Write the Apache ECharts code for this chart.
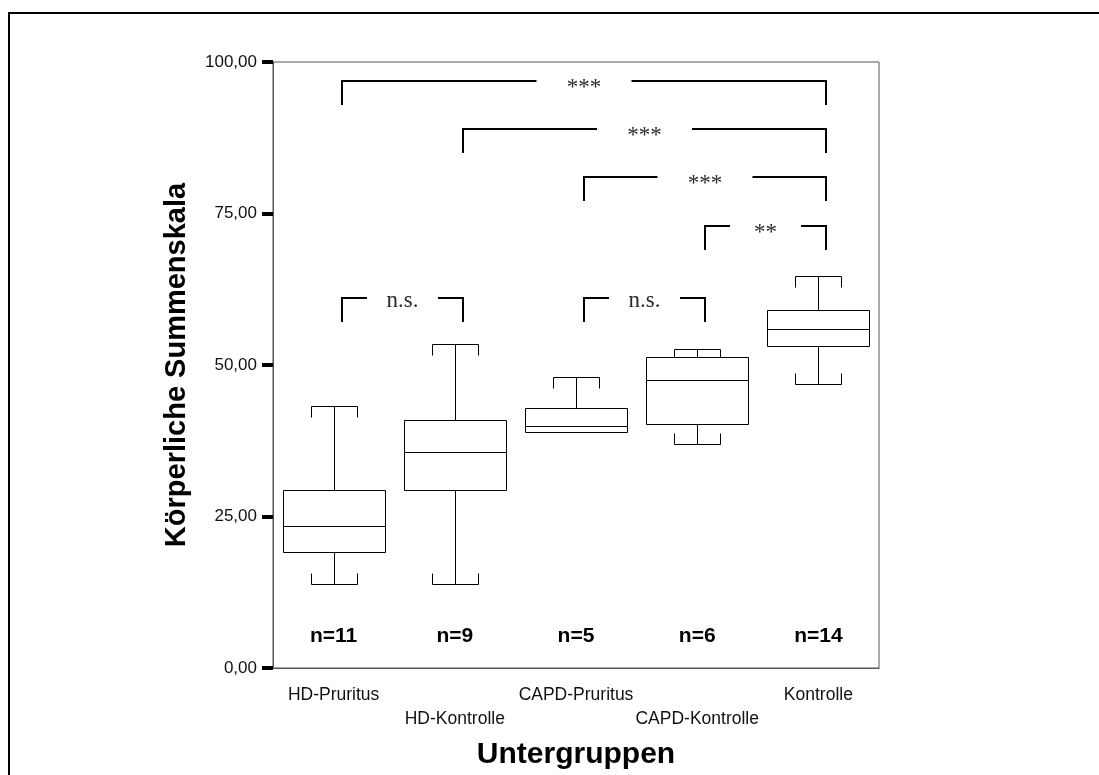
<!DOCTYPE html>
<html>
<head>
<meta charset="utf-8">
<script src="https://cdn.jsdelivr.net/npm/echarts@6/dist/echarts.min.js"></script>
<style>
  html, body { margin: 0; padding: 0; background: #fff; }
  #chart { width: 1099px; height: 775px; }
</style>
</head>
<body>
<div id="chart"></div>
<script>
  // groups on the x axis
  var groups = ['HD-Pruritus', 'HD-Kontrolle', 'CAPD-Pruritus', 'CAPD-Kontrolle', 'Kontrolle'];
  // box statistics per group
  var whiskerLow = [13.9, 13.9, 38.9, 37.0, 46.9];
  var quartile1 = [19.1, 29.3, 38.9, 40.3, 53.2];
  var medians = [23.4, 35.6, 39.9, 47.6, 56.0];
  var quartile3 = [29.3, 40.9, 42.9, 51.4, 59.0];
  var whiskerHigh = [43.2, 53.5, 48.1, 52.7, 64.7];
  var sampleSizes = [11, 9, 5, 6, 14];

  // significance brackets: group index from / to, level on the value axis
  var bracketFrom = [0, 1, 2, 3, 0, 2];
  var bracketTo = [4, 4, 4, 4, 1, 3];
  var bracketLevel = [96.8, 88.9, 81.0, 73.0, 61.0, 61.0];
  var bracketLabel = ['***', '***', '***', '**', 'n.s.', 'n.s.'];

  var yTicks = [0, 25, 50, 75, 100];

  var SANS = '"Liberation Sans", Arial, sans-serif';
  var SERIF = '"Liberation Serif", "Times New Roman", serif';

  function crisp(v) {
    return Math.round(v) + 0.5;
  }

  function seg(x1, y1, x2, y2, width) {
    return {
      type: 'line',
      shape: { x1: x1, y1: y1, x2: x2, y2: y2 },
      style: { stroke: '#000', lineWidth: width || 1 }
    };
  }

  function renderBox(params, api) {
    var i = api.value(0);
    var lo = api.coord([i, api.value(1)])[1];
    var q1 = api.coord([i, api.value(2)])[1];
    var med = api.coord([i, api.value(3)])[1];
    var q3 = api.coord([i, api.value(4)])[1];
    var hi = api.coord([i, api.value(5)])[1];
    var band = api.size([1, 0])[0];
    var x = crisp(api.coord([i, 0])[0]);
    var half = Math.round(band * 0.42);
    var cap = Math.round(band * 0.19);
    var tick = 11;
    var children = [];

    lo = crisp(lo); q1 = crisp(q1); med = crisp(med); q3 = crisp(q3); hi = crisp(hi);

    // upper whisker with bracket-shaped cap
    children.push(seg(x, q3, x, hi));
    children.push(seg(x - cap, hi, x + cap, hi));
    children.push(seg(x - cap, hi, x - cap, hi + tick));
    children.push(seg(x + cap, hi, x + cap, hi + tick));

    // lower whisker, only when it has a length
    if (api.value(1) < api.value(2)) {
      children.push(seg(x, q1, x, lo));
      children.push(seg(x - cap, lo, x + cap, lo));
      children.push(seg(x - cap, lo, x - cap, lo - tick));
      children.push(seg(x + cap, lo, x + cap, lo - tick));
    }

    children.push({
      type: 'rect',
      shape: { x: x - half, y: q3, width: half * 2, height: q1 - q3 },
      style: { stroke: '#000', fill: '#fff', lineWidth: 1 }
    });
    children.push(seg(x - half, med, x + half, med));

    return { type: 'group', children: children };
  }

  var gapByLabel = { '***': 95, '**': 71, 'n.s.': 71 };

  function renderBracket(params, api) {
    var idx = params.dataIndex;
    var a = api.coord([api.value(0), api.value(2)]);
    var b = api.coord([api.value(1), api.value(2)]);
    var x1 = Math.round(a[0]) + 8;
    var x2 = Math.round(b[0]) + 8;
    var y = Math.round(a[1]);
    var drop = 24;
    var label = bracketLabel[idx];
    var gap = gapByLabel[label];
    var mid = (x1 + x2) / 2;
    var lineStyle = { stroke: '#000', lineWidth: 2, fill: null };

    return {
      type: 'group',
      children: [
        {
          type: 'polyline',
          shape: { points: [[x1, y + drop], [x1, y], [mid - gap / 2, y]] },
          style: lineStyle
        },
        {
          type: 'polyline',
          shape: { points: [[mid + gap / 2, y], [x2, y], [x2, y + drop]] },
          style: lineStyle
        },
        {
          type: 'text',
          x: mid,
          y: y + (label === 'n.s.' ? 3 : 7),
          style: {
            text: label,
            fontFamily: SERIF,
            fontSize: 23,
            fill: '#2a2a2a',
            align: 'center',
            verticalAlign: 'middle'
          }
        }
      ]
    };
  }

  function renderCount(params, api) {
    var p = api.coord([api.value(0), 0]);
    return {
      type: 'text',
      x: p[0],
      y: p[1] - 32,
      style: {
        text: 'n=' + api.value(1),
        fontFamily: SANS,
        fontSize: 21,
        fontWeight: 'bold',
        fill: '#000',
        align: 'center',
        verticalAlign: 'middle'
      }
    };
  }

  var boxData = groups.map(function (g, i) {
    return [i, whiskerLow[i], quartile1[i], medians[i], quartile3[i], whiskerHigh[i]];
  });
  var bracketData = bracketFrom.map(function (f, i) {
    return [f, bracketTo[i], bracketLevel[i]];
  });
  var countData = sampleSizes.map(function (n, i) {
    return [i, n];
  });

  var chart = echarts.init(document.getElementById('chart'));
  chart.setOption({
    backgroundColor: '#fff',
    animation: false,
    graphic: [
      {
        type: 'rect',
        shape: { x: 9, y: 13, width: 1200, height: 900 },
        style: { stroke: '#000', lineWidth: 2, fill: null },
        silent: true
      }
    ],
    grid: {
      left: 273,
      right: 220,
      top: 62,
      bottom: 107,
      show: true,
      borderColor: '#555',
      borderWidth: 1,
      backgroundColor: '#fff'
    },
    xAxis: {
      type: 'category',
      data: groups,
      boundaryGap: true,
      name: 'Untergruppen',
      nameLocation: 'middle',
      nameGap: 72,
      nameTextStyle: {
        fontFamily: SANS,
        fontSize: 30,
        fontWeight: 'bold',
        color: '#000'
      },
      axisLine: { lineStyle: { color: '#555', width: 1 } },
      axisTick: { alignWithLabel: true, length: 11, lineStyle: { color: '#000', width: 4 } },
      axisLabel: {
        interval: 0,
        margin: 15,
        fontFamily: SANS,
        fontSize: 17.5,
        lineHeight: 24,
        color: '#111',
        formatter: function (value, index) {
          return index % 2 ? '\n' + value : value;
        }
      },
      splitLine: { show: false }
    },
    yAxis: {
      type: 'value',
      min: yTicks[0],
      max: yTicks[yTicks.length - 1],
      interval: yTicks[1] - yTicks[0],
      name: 'Körperliche Summenskala',
      nameLocation: 'middle',
      nameGap: 82,
      nameTextStyle: {
        fontFamily: SANS,
        fontSize: 29,
        fontWeight: 'bold',
        color: '#000'
      },
      axisLine: { show: true, lineStyle: { color: '#555', width: 1 } },
      axisTick: { show: true, length: 11, lineStyle: { color: '#000', width: 4 } },
      axisLabel: {
        margin: 16,
        fontFamily: SANS,
        fontSize: 17,
        color: '#111',
        formatter: function (value) {
          return value.toFixed(2).replace('.', ',');
        }
      },
      splitLine: { show: false }
    },
    series: [
      {
        type: 'custom',
        name: 'boxes',
        renderItem: renderBox,
        encode: { x: 0, y: [1, 2, 3, 4, 5] },
        data: boxData,
        z: 3
      },
      {
        type: 'custom',
        name: 'brackets',
        renderItem: renderBracket,
        encode: { x: [0, 1], y: 2 },
        data: bracketData,
        z: 4
      },
      {
        type: 'custom',
        name: 'counts',
        renderItem: renderCount,
        encode: { x: 0 },
        data: countData,
        z: 4
      }
    ]
  });
</script>
</body>
</html>
